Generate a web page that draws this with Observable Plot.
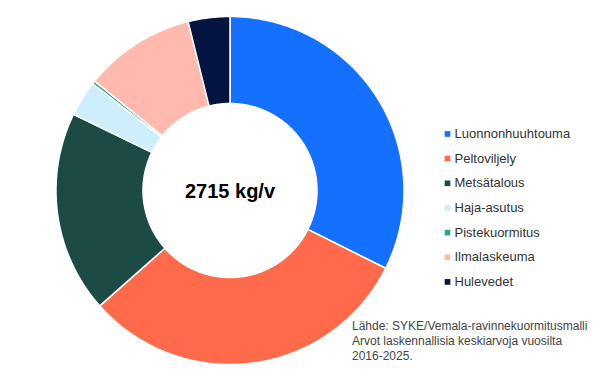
<!DOCTYPE html>
<html>
<head>
<meta charset="utf-8">
<script src="https://cdn.jsdelivr.net/npm/d3@7"></script>
<script src="https://cdn.jsdelivr.net/npm/@observablehq/plot@0.6"></script>
<style>
  html, body { margin: 0; padding: 0; background: #fff; }
  #chart { width: 600px; height: 379px; }
</style>
</head>
<body>
<div id="chart"></div>
<script>
// Data
const categories = ["Luonnonhuuhtouma", "Peltoviljely", "Metsätalous", "Haja-asutus", "Pistekuormitus", "Ilmalaskeuma", "Hulevedet"];
const values = [879, 844, 509, 90, 8, 280, 105]; // kg/v
const colors = ["#1470ff", "#ff6b4a", "#1b4b44", "#cdeefa", "#2aa58c", "#ffb9ae", "#041441"];
const unit = "kg/v";
const sourceLines = ["Lähde: SYKE/Vemala-ravinnekuormitusmalli", "Arvot laskennallisia keskiarvoja vuosilta", "2016-2025."];

// Layout
const W = 600, H = 379;
const cx = 229.5, cy = 190;
const R = 174, r = 87;
const px = x => x - cx, py = y => y - cy;

const total = d3.sum(values);
const arcs = d3.pie().sort(null).value(d => d.value)(categories.map((c, i) => ({cat: c, value: values[i], color: colors[i]})));

// Build slice polygons from pie angles
const pts = [];
for (const a of arcs) {
  const n = Math.max(2, Math.ceil((a.endAngle - a.startAngle) / (Math.PI / 360)));
  for (let k = 0; k <= n; k++) {
    const t = a.startAngle + (a.endAngle - a.startAngle) * k / n;
    pts.push({cat: a.data.cat, color: a.data.color, x: R * Math.sin(t), y: -R * Math.cos(t)});
  }
  for (let k = n; k >= 0; k--) {
    const t = a.startAngle + (a.endAngle - a.startAngle) * k / n;
    pts.push({cat: a.data.cat, color: a.data.color, x: r * Math.sin(t), y: -r * Math.cos(t)});
  }
}

const legend = categories.map((c, i) => ({cat: c, color: colors[i], x: px(447), tx: px(454), y: py(133.5 + i * 24.65)}));

const chart = Plot.plot({
  width: W, height: H,
  margin: 0,
  x: {domain: [px(0), px(W)], range: [0, W], axis: null},
  y: {domain: [py(0), py(H)], range: [0, H], axis: null},
  color: {type: "identity"},
  style: {background: "#fff", fontFamily: "'Liberation Sans', Arial, sans-serif"},
  marks: [
    Plot.line(pts, {x: "x", y: "y", z: "cat", fill: "color", stroke: "white", strokeWidth: 1.5, curve: "linear-closed", strokeLinejoin: "miter"}),
    Plot.text([`${total} ${unit}`], {x: 0, y: 0, text: d => d, fontSize: 20, fontWeight: "bold", fill: "#000", textAnchor: "middle", lineAnchor: "middle", dy: 1}),
    Plot.dot(legend, {x: "x", y: "y", symbol: "square", r: 3.2, fill: "color", stroke: null}),
    Plot.text(legend, {x: "tx", y: "y", text: "cat", textAnchor: "start", lineAnchor: "middle", fontSize: 13, fill: "#333"}),
    Plot.text([sourceLines.join("\n")], {x: px(351.5), y: py(340), text: d => d, textAnchor: "start", lineAnchor: "middle", fontSize: 12, lineHeight: 1.25, fill: "#444"})
  ]
});
document.getElementById("chart").appendChild(chart);
</script>
</body>
</html>
